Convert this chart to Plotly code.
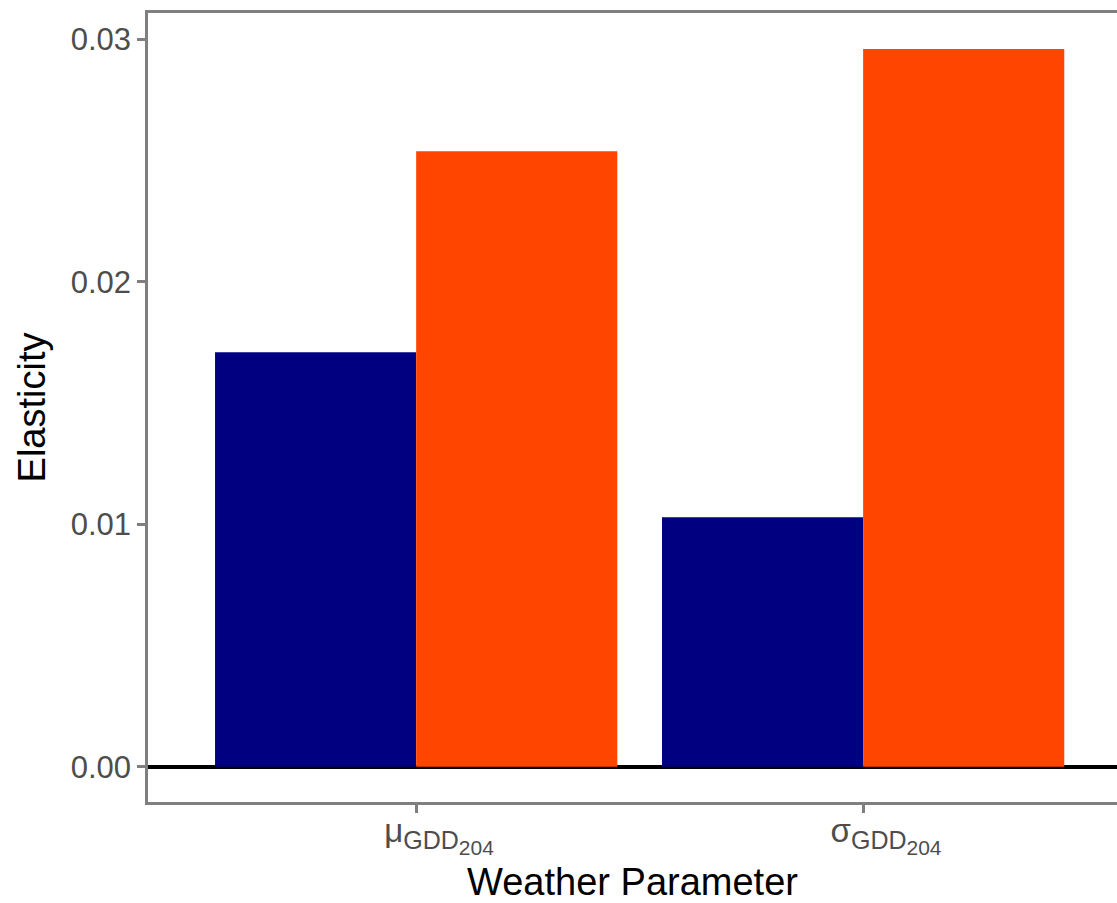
import plotly.graph_objects as go

categories = ["mu", "sigma"]
tick_labels = [
    "&nbsp;&nbsp;&nbsp;&nbsp;&nbsp;μ<sub><span style='font-size:25px'>GDD<sub><span style='font-size:21px'>204</span></sub></span></sub>",
    "&nbsp;&nbsp;&nbsp;&nbsp;&nbsp;σ<sub><span style='font-size:25px'>GDD<sub><span style='font-size:21px'>204</span></sub></span></sub>",
]
series_a = [0.01709, 0.01029]
series_b = [0.02538, 0.02960]
y_ticks = [0.00, 0.01, 0.02, 0.03]
y_tick_labels = ["0.00", "0.01", "0.02", "0.03"]

FONT = "Liberation Sans, Arial, sans-serif"

fig = go.Figure()
fig.add_trace(go.Bar(x=categories, y=series_a, marker=dict(color="#000080", line_width=0),
                     showlegend=False))
fig.add_trace(go.Bar(x=categories, y=series_b, marker=dict(color="#FF4500", line_width=0),
                     showlegend=False))

fig.update_layout(
    width=1117, height=903,
    margin=dict(l=148, r=0, t=13, b=101),
    paper_bgcolor="white", plot_bgcolor="white",
    barmode="group", bargap=0.1, bargroupgap=0,
    font=dict(family=FONT, color="#4d4d4d"),
)
fig.update_xaxes(
    type="category", range=[-0.6, 1.568], automargin=False,
    tickvals=categories, ticktext=tick_labels,
    tickfont=dict(size=33, color="#4d4d4d"),
    ticks="outside", ticklen=8, tickwidth=2.5, tickcolor="#7f7f7f",
    ticklabelstandoff=-10,
    showline=True, linecolor="#7f7f7f", linewidth=2.5, mirror=True,
    showgrid=False, zeroline=False,
    title=dict(text="Weather Parameter", font=dict(size=38, color="black"), standoff=14),
)
fig.update_yaxes(
    range=[-0.00145, 0.03108], automargin=False,
    tickvals=y_ticks, ticktext=y_tick_labels,
    tickfont=dict(size=31, color="#4d4d4d"),
    ticks="outside", ticklen=8, tickwidth=2.5, tickcolor="#7f7f7f",
    showline=True, linecolor="#7f7f7f", linewidth=2.5, mirror=False,
    showgrid=False, zeroline=True, zerolinecolor="black", zerolinewidth=4,
    title=dict(text="Elasticity", font=dict(size=38, color="black"), standoff=14),
)

fig.write_html("out.html")
